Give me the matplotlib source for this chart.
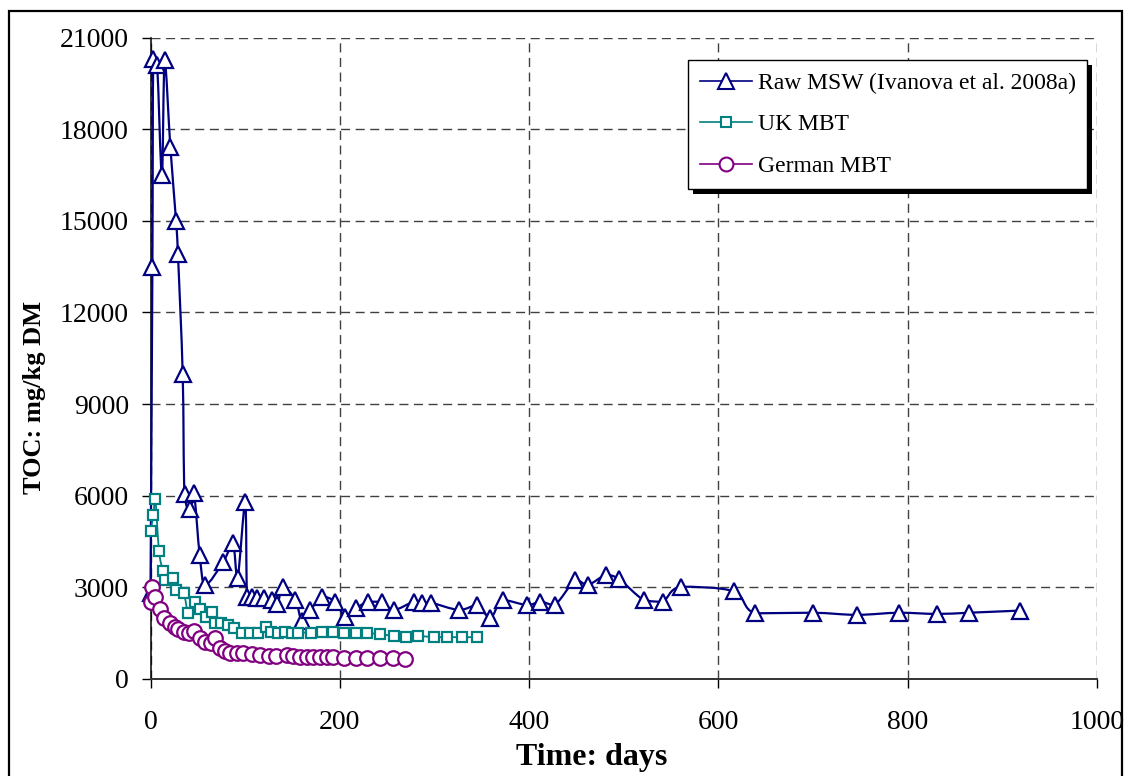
import numpy as np
import matplotlib
matplotlib.use("Agg")
import matplotlib.pyplot as plt
from matplotlib.path import Path
from matplotlib.patches import PathPatch, Rectangle
from matplotlib.lines import Line2D

# ---- data -------------------------------------------------------------
raw_days = [0, 2, 3, 7, 12, 15, 21, 27, 29, 34, 36, 42, 46, 52, 58, 77, 87, 92,
            100, 102, 107, 112, 120, 128, 134, 140, 153, 160, 169, 181, 195, 206,
            217, 230, 245, 257, 278, 287, 296, 326, 345, 359, 372, 398, 412, 427,
            449, 462, 481, 495, 521, 541, 560, 616, 639, 700, 746, 791, 831, 865, 919]
raw_toc = [2800, 13500, 20300, 20100, 16500, 20250, 17400, 15000, 13900, 10000,
           6050, 5550, 6080, 4050, 3080, 3840, 4440, 3300, 5780, 2700, 2700, 2650,
           2650, 2600, 2450, 3000, 2600, 1900, 2250, 2700, 2530, 2020, 2310, 2530,
           2530, 2260, 2530, 2480, 2500, 2260, 2420, 1990, 2590, 2420, 2530, 2420,
           3240, 3080, 3400, 3270, 2590, 2530, 3020, 2870, 2150, 2170, 2100, 2170,
           2130, 2170, 2240]

uk_days = [0, 3, 5, 9, 13, 15, 24, 27, 35, 40, 47, 52, 59, 65, 68, 75, 82, 88, 97,
           105, 114, 122, 127, 135, 142, 149, 156, 170, 181, 193, 204, 217, 229,
           242, 257, 270, 283, 299, 313, 329, 345]
uk_toc = [4850, 5370, 5900, 4190, 3540, 3240, 3300, 2920, 2810, 2170, 2530, 2280,
          2040, 2200, 1845, 1845, 1770, 1660, 1520, 1520, 1520, 1690, 1550, 1520,
          1550, 1520, 1520, 1520, 1550, 1550, 1500, 1500, 1500, 1470, 1410, 1390,
          1410, 1370, 1370, 1370, 1370]

de_days = [0, 2, 5, 10, 14, 21, 26, 29, 35, 41, 46, 52, 58, 64, 68, 73, 79, 84,
           91, 98, 107, 116, 125, 133, 144, 151, 158, 165, 172, 179, 186, 193,
           204, 217, 229, 242, 256, 269]
de_toc = [2530, 3020, 2700, 2280, 1990, 1830, 1690, 1630, 1550, 1520, 1580, 1330,
          1220, 1170, 1330, 1005, 930, 860, 840, 840, 820, 790, 750, 750, 790, 750,
          730, 730, 730, 720, 710, 710, 700, 700, 690, 680, 680, 670]

x_ticks = [0, 200, 400, 600, 800, 1000]
y_ticks = [0, 3000, 6000, 9000, 12000, 15000, 18000, 21000]

labels = ["Raw MSW (Ivanova et al. 2008a)", "UK MBT", "German MBT"]
colors = ["#000080", "#008080", "#800080"]

plt.rcParams["font.family"] = ["Liberation Serif", "DejaVu Serif"]


def smooth_path(x, y):
    """Cubic Bezier path through the points; control points are kept
    within the vertical range of each segment to avoid overshoot."""
    p = np.column_stack([x, y]).astype(float)
    n = len(p)
    verts = [p[0]]
    codes = [Path.MOVETO]
    for i in range(n - 1):
        p0 = p[i - 1] if i > 0 else p[i]
        p1, p2 = p[i], p[i + 1]
        p3 = p[i + 2] if i + 2 < n else p[i + 1]
        c1 = p1 + (p2 - p0) / 6.0
        c2 = p2 - (p3 - p1) / 6.0
        lo, hi = min(p1[1], p2[1]), max(p1[1], p2[1])
        c1[1] = np.clip(c1[1], lo, hi)
        c2[1] = np.clip(c2[1], lo, hi)
        verts += [c1, c2, p2]
        codes += [Path.CURVE4] * 3
    return Path(verts, codes)


W, H = 1128, 776
fig = plt.figure(figsize=(W / 100, H / 100), dpi=100)
ax = fig.add_axes([150.5 / W, 1 - 679 / H, (1097 - 150.5) / W, (679 - 37.5) / H])

series = [
    (raw_days, raw_toc, "^", 12, 1.6),
    (uk_days, uk_toc, "s", 7.5, 1.3),
    (de_days, de_toc, "o", 10.5, 1.3),
]
handles = []
for k, (d, v, mk, ms, lw) in enumerate(series):
    c = colors[k]
    patch = PathPatch(smooth_path(d, v), facecolor="none", edgecolor=c, lw=lw,
                      transform=ax.transData, clip_on=False, zorder=3 + 2 * k)
    ax.add_patch(patch)
    ax.plot(d, v, ls="none", marker=mk, ms=ms, mfc="white", mec=c, mew=1.6,
            clip_on=False, zorder=4 + 2 * k)
    handles.append(Line2D([], [], color=c, lw=1.2, marker=mk, ms=ms * 0.95,
                          mfc="white", mec=c, mew=1.5))

ax.set_xlim(0, 1000)
ax.set_ylim(0, 21000)
ax.set_xticks(x_ticks)
ax.set_yticks(y_ticks)
ax.set_xticklabels([str(t) for t in x_ticks])
ax.set_yticklabels([str(t) for t in y_ticks])
ax.tick_params(axis="both", direction="out", length=6.5, width=1, colors="black",
               labelsize=20)
ax.tick_params(axis="x", pad=16)
ax.tick_params(axis="y", pad=9)

ax.grid(True, color="#404040", lw=1, ls=(0, (6.5, 4)))
ax.set_axisbelow(True)
for s in ["top", "right"]:
    ax.spines[s].set_visible(False)
ax.spines["left"].set_color("black")
ax.spines["left"].set_linewidth(1.1)
ax.spines["bottom"].set_color("#333333")
ax.spines["bottom"].set_linewidth(1.4)

fig.text(35 / W, 1 - 397 / H, "TOC: mg/kg DM", rotation=90, ha="center",
         va="center", fontsize=19, fontweight="bold")
fig.text(592 / W, 1 - 757 / H, "Time: days", ha="center", va="center",
         fontsize=23, fontweight="bold")

leg = ax.legend(handles, labels, loc="upper left",
                bbox_to_anchor=(688 / W, 1 - 60.5 / H),
                bbox_transform=fig.transFigure, fontsize=17, frameon=True,
                fancybox=False, shadow=False, framealpha=1, edgecolor="black",
                handlelength=2.2, handletextpad=0.25, borderpad=0.5,
                labelspacing=0.85, borderaxespad=0)
leg.get_frame().set_linewidth(1.0)
leg.set_zorder(20)

# black drop shadow behind the legend box
fig.canvas.draw()
bb = leg.get_window_extent()
shadow = Rectangle((bb.x0 + 5, bb.y0 - 5), bb.width, bb.height, transform=None,
                   facecolor="black", edgecolor="none", zorder=19)
ax.add_artist(shadow)
shadow.set_clip_on(False)

# outer chart frame
frame = Rectangle((9 / W, -0.02), (1122 - 9) / W, 1 - 11 / H + 0.02,
                  transform=fig.transFigure, facecolor="none", edgecolor="black",
                  lw=1.6, zorder=30)
fig.add_artist(frame)

fig.savefig("out.png", dpi=100)
